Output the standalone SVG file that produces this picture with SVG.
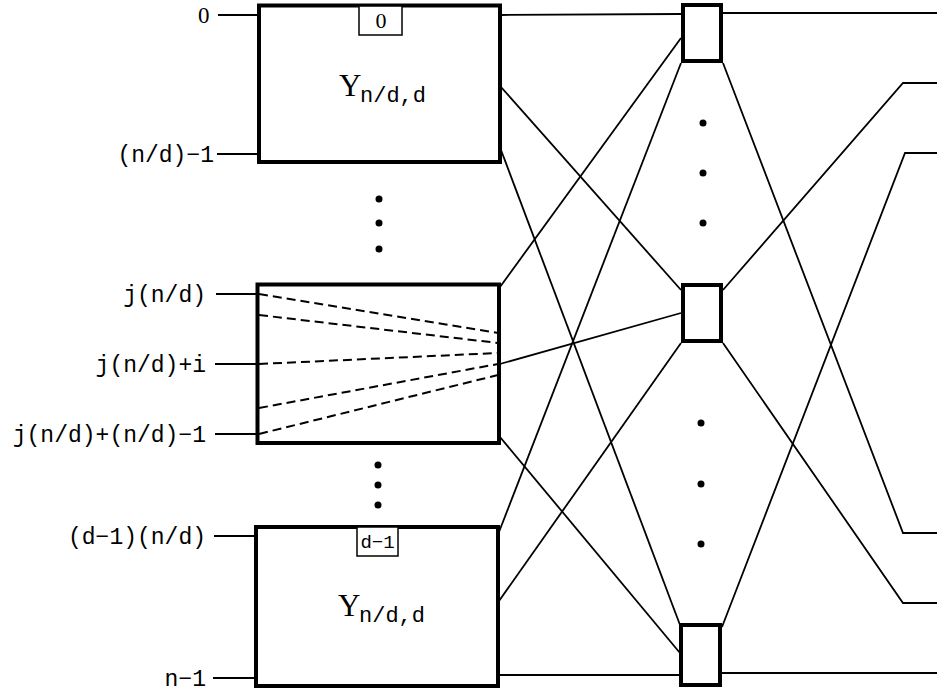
<svg xmlns="http://www.w3.org/2000/svg" width="937" height="696" viewBox="0 0 937 696">
<style>
.bg{fill:#fff}
.big{fill:#fff;stroke:#000;stroke-width:4}
.sw{fill:#fff;stroke:#000;stroke-width:4}
.tag{fill:#fff;stroke:#000;stroke-width:1.5}
.ln{fill:none;stroke:#000;stroke-width:1.8}
.dash{fill:none;stroke:#000;stroke-width:2;stroke-dasharray:9 5}
.lbl{font-family:"Liberation Mono",monospace;font-size:23px;fill:#000;text-anchor:end}
.zero{font-family:"Liberation Serif",serif;font-size:23px;fill:#000}
.tg{font-family:"Liberation Mono",monospace;font-size:19px;fill:#000;text-anchor:middle}
.Y{font-family:"Liberation Serif",serif;font-size:31px;fill:#000}
.sub{font-family:"Liberation Mono",monospace;font-size:22px;fill:#000}
.dot{fill:#000}
</style>
<rect class="bg" x="0" y="0" width="937" height="696"/>

<g id="connectors">
  <!-- input lines -->
  <line class="ln" x1="218" y1="15" x2="257" y2="15"/>
  <line class="ln" x1="217" y1="154" x2="257" y2="154"/>
  <line class="ln" x1="216" y1="294" x2="256" y2="294"/>
  <line class="ln" x1="215" y1="364" x2="256" y2="364"/>
  <line class="ln" x1="215" y1="434" x2="256" y2="434"/>
  <line class="ln" x1="214" y1="536" x2="254" y2="536"/>
  <line class="ln" x1="213" y1="678" x2="254" y2="678"/>
  <!-- top box outputs -->
  <line class="ln" x1="501" y1="15" x2="681" y2="14"/>
  <line class="ln" x1="501" y1="87" x2="681" y2="290"/>
  <line class="ln" x1="501" y1="150" x2="680" y2="625"/>
  <!-- middle box outputs -->
  <line class="ln" x1="500" y1="287" x2="681" y2="38"/>
  <line class="ln" x1="500" y1="364" x2="681" y2="313"/>
  <line class="ln" x1="500" y1="437" x2="680" y2="653"/>
  <!-- bottom box outputs -->
  <line class="ln" x1="499" y1="532" x2="681" y2="63"/>
  <line class="ln" x1="499" y1="601" x2="681" y2="343"/>
  <line class="ln" x1="499" y1="675" x2="680" y2="675"/>
  <!-- switch outputs -->
  <line class="ln" x1="723" y1="13" x2="937" y2="13"/>
  <polyline class="ln" points="723,63 903,533 937,533"/>
  <polyline class="ln" points="723,290 903,83 937,83"/>
  <polyline class="ln" points="723,343 903,603 937,603"/>
  <polyline class="ln" points="722,627 905,153 937,153"/>
  <line class="ln" x1="722" y1="673" x2="937" y2="673"/>
</g>

<g id="labels">
  <text class="zero" x="198" y="23">0</text>
  <text class="lbl" x="214" y="162">(n/d)−1</text>
  <text class="lbl" x="206" y="302">j(n/d)</text>
  <text class="lbl" x="206" y="372">j(n/d)+i</text>
  <text class="lbl" x="206" y="442">j(n/d)+(n/d)−1</text>
  <text class="lbl" x="206" y="544">(d−1)(n/d)</text>
  <text class="lbl" x="206" y="686">n−1</text>
</g>

<g id="box-0">
  <rect class="big" x="259" y="5.5" width="241" height="156.5"/>
  <rect class="tag" x="359" y="6" width="43" height="29"/>
  <text class="zero" x="381" y="28" text-anchor="middle" style="font-size:22px">0</text>
  <text class="Y" x="339" y="96">Y</text>
  <text class="sub" x="360" y="102">n/d,d</text>
</g>

<g id="dots-upper">
  <circle class="dot" cx="379" cy="199" r="3.5"/>
  <circle class="dot" cx="379" cy="223" r="3.5"/>
  <circle class="dot" cx="379" cy="249" r="3.5"/>
</g>

<g id="box-j">
  <rect class="big" x="257.5" y="284.5" width="241.5" height="158.5"/>
  <line class="dash" x1="259" y1="294" x2="498" y2="333"/>
  <line class="dash" x1="259" y1="315" x2="498" y2="343"/>
  <line class="dash" x1="259" y1="364" x2="498" y2="353"/>
  <line class="dash" x1="259" y1="408" x2="498" y2="364"/>
  <line class="dash" x1="259" y1="434" x2="498" y2="375"/>
</g>

<g id="dots-lower">
  <circle class="dot" cx="378" cy="465" r="3.5"/>
  <circle class="dot" cx="378" cy="485" r="3.5"/>
  <circle class="dot" cx="378" cy="505" r="3.5"/>
</g>

<g id="box-d1">
  <rect class="big" x="256" y="527" width="242" height="159"/>
  <rect class="tag" x="357" y="527" width="41" height="29"/>
  <text class="tg" x="377.5" y="548">d−1</text>
  <text class="Y" x="338" y="616">Y</text>
  <text class="sub" x="359" y="622">n/d,d</text>
</g>

<g id="switch-1">
  <rect class="sw" x="683" y="5" width="38" height="56"/>
</g>
<g id="switch-2">
  <rect class="sw" x="683" y="285" width="38" height="56"/>
</g>
<g id="switch-3">
  <rect class="sw" x="681" y="625" width="39" height="60"/>
</g>

<g id="dots-switch">
  <circle class="dot" cx="703" cy="123" r="3.5"/>
  <circle class="dot" cx="703" cy="173" r="3.5"/>
  <circle class="dot" cx="703" cy="223" r="3.5"/>
  <circle class="dot" cx="701" cy="423" r="3.5"/>
  <circle class="dot" cx="701" cy="484" r="3.5"/>
  <circle class="dot" cx="701" cy="544" r="3.5"/>
</g>
</svg>
